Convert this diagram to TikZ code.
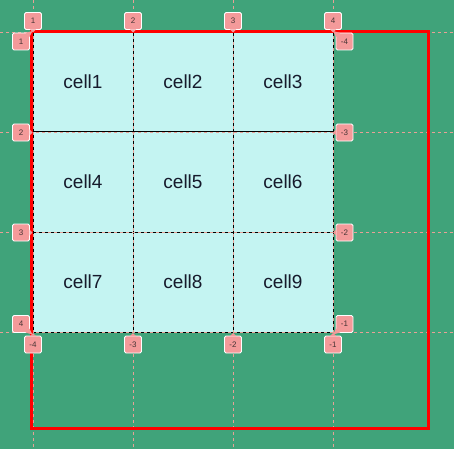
\documentclass[tikz,border=0pt]{standalone}
\usepackage{fontspec}
\setmainfont{Liberation Sans}
\usepackage{tikz}

\definecolor{bggreen}{RGB}{64,163,122}
\definecolor{cellcyan}{RGB}{196,244,242}
\definecolor{gridpink}{RGB}{232,160,150}
\definecolor{tagpink}{RGB}{244,154,154}
\definecolor{tagtext}{RGB}{70,52,52}
\definecolor{celltext}{RGB}{22,26,44}

\tikzset{
  gridcell/.style={draw=black,line width=1pt,fill=cellcyan,minimum size=100pt,inner sep=0pt,outer sep=0pt,text=celltext,font=\fontsize{19}{22}\selectfont},
  gridline/.style={draw=gridpink,line width=0.9pt,dash pattern=on 3pt off 3pt},
  tag/.style={fill=tagpink,draw=white,line width=0.8pt,rounded corners=1.5pt,minimum size=17pt,inner sep=0pt,outer sep=0pt,text=tagtext,font=\fontsize{8}{9}\selectfont},
  tagtip/.style={fill=tagpink,draw=none}
}

\begin{document}
\begin{tikzpicture}[x=1pt,y=-1pt]
\path[use as bounding box] (0,0) rectangle (454,449);
\path[fill=bggreen,draw=none] (0,0) rectangle (454,449);
% cells
\node[gridcell] (cell1) at (83,82) {cell1};
\node[gridcell] (cell2) at (183,82) {cell2};
\node[gridcell] (cell3) at (283,82) {cell3};
\node[gridcell] (cell4) at (83,182) {cell4};
\node[gridcell] (cell5) at (183,182) {cell5};
\node[gridcell] (cell6) at (283,182) {cell6};
\node[gridcell] (cell7) at (83,282) {cell7};
\node[gridcell] (cell8) at (183,282) {cell8};
\node[gridcell] (cell9) at (283,282) {cell9};
% grid lines
\draw[gridline] (33,0) -- (33,449);
\draw[gridline] (133,0) -- (133,449);
\draw[gridline] (233,0) -- (233,449);
\draw[gridline] (333.5,0) -- (333.5,449);
\draw[gridline] (0,32) -- (454,32);
\draw[gridline] (0,132) -- (454,132);
\draw[gridline] (0,232) -- (454,232);
\draw[gridline] (0,332.5) -- (454,332.5);
% container
\draw[draw=red,line width=3pt] (31.5,31.5) rectangle (428,428);
% column lines, top
\node[tag] (top1) at (33,21) {1};
\node[tag] (top2) at (133,21) {2};
\node[tag] (top3) at (233,21) {3};
\node[tag] (top4) at (333,21) {4};
\path[tagtip] ([xshift=-3pt]top1.south) -- ([xshift=3pt]top1.south) -- ([yshift=-3pt]top1.south) -- cycle;
\path[tagtip] ([xshift=-3pt]top2.south) -- ([xshift=3pt]top2.south) -- ([yshift=-3pt]top2.south) -- cycle;
\path[tagtip] ([xshift=-3pt]top3.south) -- ([xshift=3pt]top3.south) -- ([yshift=-3pt]top3.south) -- cycle;
\path[tagtip] ([xshift=-3pt]top4.south) -- ([xshift=3pt]top4.south) -- ([yshift=-3pt]top4.south) -- cycle;
% row lines, left
\node[tag] (left1) at (21,41.5) {1};
\node[tag] (left2) at (21,132.5) {2};
\node[tag] (left3) at (21,232.5) {3};
\node[tag] (left4) at (21,324) {4};
\path[tagtip] ([xshift=-4pt]left1.north east) -- ([yshift=-4pt]left1.north east) -- ([xshift=3pt,yshift=2pt]left1.north east) -- cycle;
\path[tagtip] ([yshift=3pt]left2.east) -- ([yshift=-3pt]left2.east) -- ([xshift=3pt]left2.east) -- cycle;
\path[tagtip] ([yshift=3pt]left3.east) -- ([yshift=-3pt]left3.east) -- ([xshift=3pt]left3.east) -- cycle;
\path[tagtip] ([xshift=-4pt]left4.south east) -- ([yshift=4pt]left4.south east) -- ([xshift=3pt,yshift=-2pt]left4.south east) -- cycle;
% negative row lines, right
\node[tag] (right4) at (344.5,41.5) {-4};
\node[tag] (right3) at (344.5,132.5) {-3};
\node[tag] (right2) at (344.5,232.5) {-2};
\node[tag] (right1) at (344.5,324) {-1};
\path[tagtip] ([xshift=4pt]right4.north west) -- ([yshift=-4pt]right4.north west) -- ([xshift=-3pt,yshift=2pt]right4.north west) -- cycle;
\path[tagtip] ([yshift=3pt]right3.west) -- ([yshift=-3pt]right3.west) -- ([xshift=-3pt]right3.west) -- cycle;
\path[tagtip] ([yshift=3pt]right2.west) -- ([yshift=-3pt]right2.west) -- ([xshift=-3pt]right2.west) -- cycle;
\path[tagtip] ([xshift=4pt]right1.south west) -- ([yshift=4pt]right1.south west) -- ([xshift=-3pt,yshift=-2pt]right1.south west) -- cycle;
% negative column lines, bottom
\node[tag] (bottom4) at (33,344.5) {-4};
\node[tag] (bottom3) at (133,344.5) {-3};
\node[tag] (bottom2) at (233,344.5) {-2};
\node[tag] (bottom1) at (333,344.5) {-1};
\path[tagtip] ([xshift=-3pt]bottom4.north) -- ([xshift=3pt]bottom4.north) -- ([yshift=3pt]bottom4.north) -- cycle;
\path[tagtip] ([xshift=-3pt]bottom3.north) -- ([xshift=3pt]bottom3.north) -- ([yshift=3pt]bottom3.north) -- cycle;
\path[tagtip] ([xshift=-3pt]bottom2.north) -- ([xshift=3pt]bottom2.north) -- ([yshift=3pt]bottom2.north) -- cycle;
\path[tagtip] ([xshift=-3pt]bottom1.north) -- ([xshift=3pt]bottom1.north) -- ([yshift=3pt]bottom1.north) -- cycle;
\end{tikzpicture}
\end{document}
